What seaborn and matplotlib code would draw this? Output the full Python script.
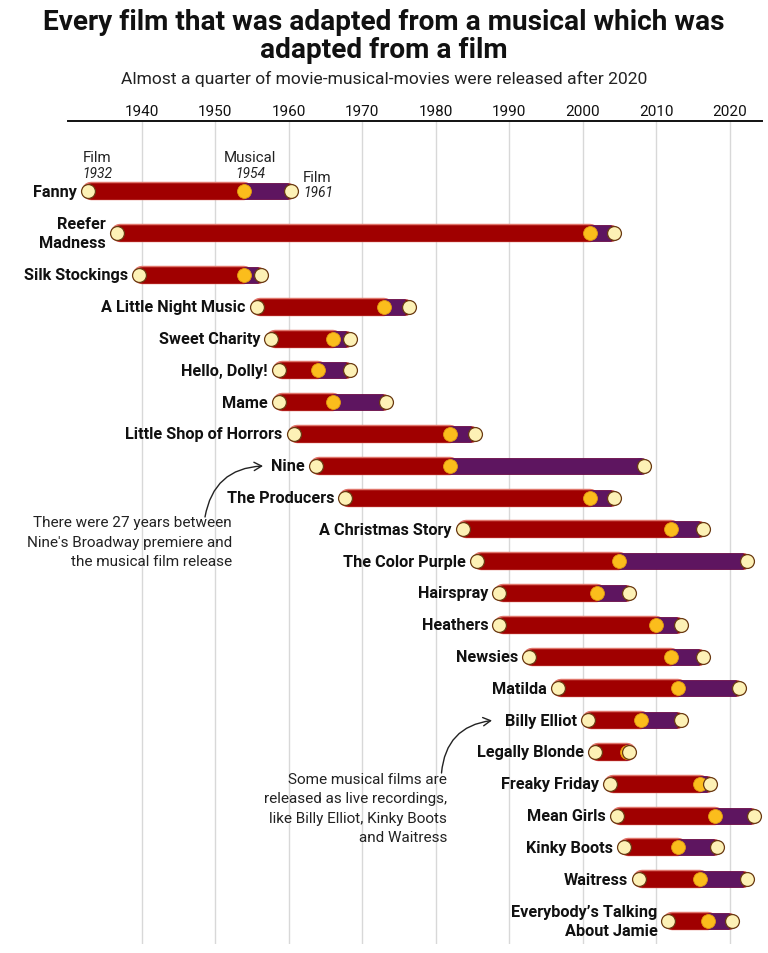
import matplotlib
matplotlib.use("Agg")
import matplotlib.pyplot as plt
import seaborn as sns
import pandas as pd

# ---------------- data ----------------
titles = [
    "Fanny", "Reefer\nMadness", "Silk Stockings", "A Little Night Music",
    "Sweet Charity", "Hello, Dolly!", "Mame", "Little Shop of Horrors",
    "Nine", "The Producers", "A Christmas Story", "The Color Purple",
    "Hairspray", "Heathers", "Newsies", "Matilda", "Billy Elliot",
    "Legally Blonde", "Freaky Friday", "Mean Girls", "Kinky Boots",
    "Waitress", "Everybody\u2019s Talking\nAbout Jamie",
]
film_year = [1932, 1936, 1939, 1955, 1957, 1958, 1958, 1960, 1963, 1967,
             1983, 1985, 1988, 1988, 1992, 1996, 2000, 2001, 2003, 2004,
             2005, 2007, 2011]
musical_year = [1954, 2001, 1954, 1973, 1966, 1964, 1966, 1982, 1982, 2001,
                2012, 2005, 2002, 2010, 2012, 2013, 2008, 2006, 2016, 2018,
                2013, 2016, 2017]
musical_film_year = [1961, 2005, 1957, 1977, 1969, 1969, 1974, 1986, 2009,
                     2005, 2017, 2023, 2007, 2014, 2017, 2022, 2014, 2007,
                     2018, 2024, 2019, 2023, 2021]
tick_years = [1940, 1950, 1960, 1970, 1980, 1990, 2000, 2010, 2020]

title_lines = ["Every film that was adapted from a musical which was",
               "adapted from a film"]
subtitle = "Almost a quarter of movie-musical-movies were released after 2020"
note_nine = "There were 27 years between\nNine's Broadway premiere and\nthe musical film release"
note_live = "Some musical films are\nreleased as live recordings,\nlike Billy Elliot, Kinky Boots\nand Waitress"

# ---------------- style ----------------
sns.set_theme(style="white")
plt.rcParams["font.family"] = ["Roboto", "DejaVu Sans"]

RED = "#a00000"
RED_EDGE = "#e0766c"
PURPLE = "#5e1560"
GOLD = "#fbbd1c"
GOLD_EDGE = "#e39a10"
CREAM = "#fdf1b6"
DOT_EDGE = "#6a3a12"
TXT = "#111111"

W, H = 768, 954
fig = plt.figure(figsize=(W / 100, H / 100), dpi=100)
fig.patch.set_facecolor("white")
ax_left, ax_right, ax_top, ax_bottom = 68, 762, 122, 945
ax = fig.add_axes([ax_left / W, (H - ax_bottom) / H,
                   (ax_right - ax_left) / W, (ax_bottom - ax_top) / H])

x0, x1 = 1930, 2024.4
px_per_year = (ax_right - ax_left) / (x1 - x0)
bar_px = 16.5
lw = bar_px * 0.72
cap = (bar_px / 2) / px_per_year
inset = 5 / px_per_year
gap = 6 * 0.72

# row positions (two-line labels get extra room)
two_line = ["\n" in t for t in titles]
rows = [0.0]
for i in range(1, len(titles)):
    rows.append(rows[-1] + 1 + 0.32 * (two_line[i] + two_line[i - 1]))

# ---------------- bars ----------------
for i in range(len(titles)):
    r = rows[i]
    a, m, b = film_year[i], musical_year[i], musical_film_year[i]
    ax.plot([a + cap, m], [r, r], color=RED_EDGE, lw=lw + 1.4,
            solid_capstyle="round", zorder=2)
    ax.plot([a + cap, b - cap], [r, r], color=RED, lw=lw,
            solid_capstyle="round", zorder=3)
    ax.plot([m, b - cap], [r, r], color=PURPLE, lw=lw,
            solid_capstyle="butt", zorder=3.5)
    ax.plot([b - cap - 0.01, b - cap], [r, r], color=PURPLE, lw=lw,
            solid_capstyle="round", zorder=3.5)
    ax.annotate(titles[i], xy=(a, r), xytext=(-gap, 0),
                textcoords="offset points", ha="right", va="center",
                fontsize=11.7, fontweight="bold", color=TXT,
                linespacing=1.28, annotation_clip=False)

mid_df = pd.DataFrame({"year": musical_year, "row": rows})
end_df = pd.DataFrame({
    "year": [y + inset for y in film_year] + [y - inset for y in musical_film_year],
    "row": rows + rows,
})
sns.scatterplot(data=mid_df, x="year", y="row", s=100, color=GOLD,
                edgecolor=GOLD_EDGE, linewidth=0.6, zorder=5, ax=ax,
                legend=False)
sns.scatterplot(data=end_df, x="year", y="row", s=100, color=CREAM,
                edgecolor=DOT_EDGE, linewidth=0.9, zorder=6, ax=ax,
                legend=False)

# ---------------- axes ----------------
ax.set_xlim(x0, x1)
ax.set_ylim((ax_bottom - 192) / 31.8, (ax_top - 192) / 31.8)
ax.set_xlabel("")
ax.set_ylabel("")
ax.set_yticks([])
ax.set_xticks(tick_years)
ax.set_xticklabels([str(t) for t in tick_years])
ax.xaxis.tick_top()
ax.tick_params(axis="x", length=0, pad=2, labelsize=11, colors=TXT)
ax.grid(axis="x", color="#d8d8d8", lw=1)
ax.set_axisbelow(True)
for s in ["left", "right", "bottom"]:
    ax.spines[s].set_visible(False)
ax.spines["top"].set_color("#111111")
ax.spines["top"].set_linewidth(1.4)
ax.set_facecolor("white")

# ---------------- Fanny key labels ----------------
r0 = rows[0]
kw = dict(textcoords="offset points", va="center", color="#222222",
          annotation_clip=False)
ax.annotate("Film", xy=(film_year[0], r0), xytext=(0, 24.5), ha="left",
            fontsize=10.8, **kw)
ax.annotate(str(film_year[0]), xy=(film_year[0], r0), xytext=(0, 13),
            ha="left", fontsize=10, style="italic", **kw)
ax.annotate("Musical", xy=(musical_year[0], r0), xytext=(4.3, 24.5),
            ha="center", fontsize=10.8, **kw)
ax.annotate(str(musical_year[0]), xy=(musical_year[0], r0), xytext=(4.3, 13),
            ha="center", fontsize=10, style="italic", **kw)
ax.annotate("Film", xy=(musical_film_year[0], r0), xytext=(5, 10),
            ha="left", fontsize=10.8, **kw)
ax.annotate(str(musical_film_year[0]), xy=(musical_film_year[0], r0),
            xytext=(5, -0.7), ha="left", fontsize=10, style="italic", **kw)

# ---------------- notes ----------------
def yr(px):
    return x0 + (px - ax_left) / px_per_year

def rw(py):
    return (py - 192) / 31.8

ax.text(yr(232), rw(516), note_nine, ha="right", va="top", fontsize=11,
        color="#222222", linespacing=1.5, clip_on=False)
ax.text(yr(447), rw(773), note_live, ha="right", va="top", fontsize=11,
        color="#222222", linespacing=1.5, clip_on=False)
arrow = dict(arrowstyle="->,head_length=0.45,head_width=0.25",
             connectionstyle="arc3,rad=-0.4", lw=1.0, color="#222222",
             shrinkA=0, shrinkB=0)
ax.annotate("", xy=(yr(263), rw(467)), xytext=(yr(205), rw(518)),
            arrowprops=arrow, annotation_clip=False)
ax.annotate("", xy=(yr(492), rw(721.5)), xytext=(yr(441.5), rw(774)),
            arrowprops=arrow, annotation_clip=False)

# ---------------- titles ----------------
fig.text(0.5, 1 - 22 / H, title_lines[0], ha="center", va="center",
         fontsize=20.2, fontweight="bold", color=TXT)
fig.text(0.5, 1 - 50 / H, title_lines[1], ha="center", va="center",
         fontsize=20.2, fontweight="bold", color=TXT)
fig.text(0.5, 1 - 79 / H, subtitle, ha="center", va="center",
         fontsize=12.6, color="#222222")

fig.savefig("out.png", dpi=100, facecolor="white")
